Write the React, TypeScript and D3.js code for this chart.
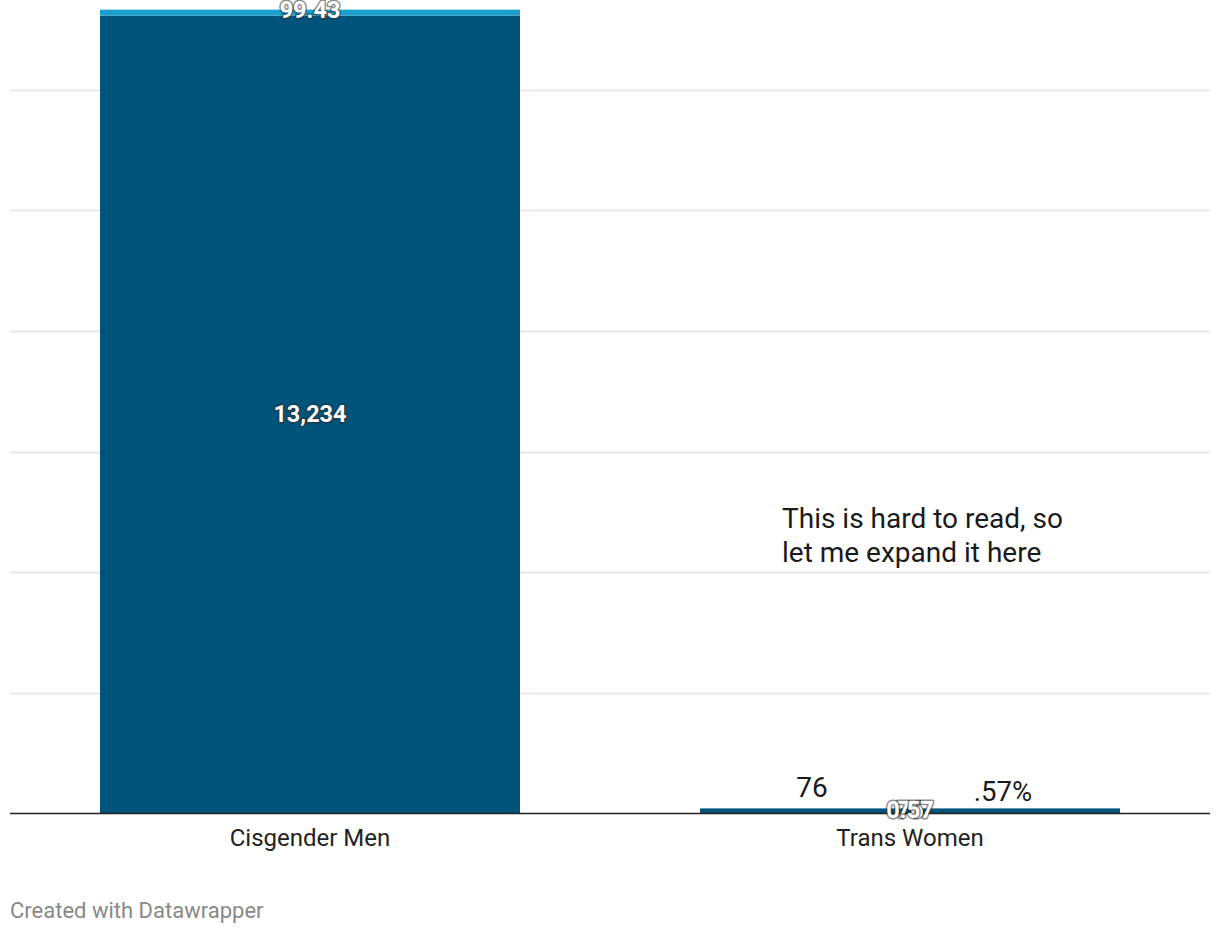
import React from "react";
import * as d3 from "d3";

const categories = ["Cisgender Men", "Trans Women"];
const countValues = [13234, 76];
const percentValues = [99.43, 0.57];
const countLabels = ["13,234", "76"];
const percentLabels = ["99.43", "0.57"];
const yTicks = [0, 2000, 4000, 6000, 8000, 10000, 12000];

const W = 1220;
const H = 934;
const left = 10;
const right = 1210;
const baseY = 813;

export default function App() {
  const x = d3.scaleBand<string>().domain(categories).range([left, right]).paddingInner(0.3).paddingOuter(0.15);
  const y = d3.scaleLinear().domain([0, 12000]).range([baseY, 90]);
  const dark = "#00537a";
  const light = "#1a9fcc";
  const font = "Roboto, sans-serif";
  const halo = { paintOrder: "stroke" as const, stroke: "#2a2a2a", strokeWidth: 3, strokeOpacity: 0.55, strokeLinejoin: "round" as const };
  return (
    <div style={{ position: "absolute", left: 0, top: 0 }}>
      <svg width={W} height={H} style={{ display: "block", fontFamily: font }}>
        <rect width={W} height={H} fill="#fff" />
        {yTicks.filter((t) => t > 0).map((t) => (
          <line key={t} x1={left} x2={right} y1={Math.round(y(t)) + 0.5} y2={Math.round(y(t)) + 0.5} stroke="#e3e3e3" strokeWidth={1.5} />
        ))}
        {categories.map((c, i) => {
          const x0 = x(c)!;
          const bw = x.bandwidth();
          const yc = y(countValues[i]);
          const yp = y(countValues[i] + percentValues[i]);
          return (
            <g key={c}>
              <rect x={x0} width={bw} y={yc} height={baseY - yc} fill={dark} />
              <rect x={x0} width={bw} y={yp} height={yc - yp} fill={light} />
            </g>
          );
        })}
        <line x1={left} x2={right} y1={baseY + 0.5} y2={baseY + 0.5} stroke="#222" strokeWidth={1.5} />
        {categories.map((c, i) => {
          const cx = x(c)! + x.bandwidth() / 2;
          const yc = y(countValues[i]);
          const yp = y(countValues[i] + percentValues[i]);
          return (
            <g key={c + "l"} fontWeight={700} fontSize={23.5} fill="#fff" textAnchor="middle" dominantBaseline="central">
              <text x={cx} y={(baseY + yc) / 2 + (i === 1 ? -1 : 0)} style={halo}>{countLabels[i]}</text>
              <text x={cx} y={i === 0 ? (yc + yp) / 2 - 3 : (baseY + yc) / 2 - 1} style={halo}>{percentLabels[i]}</text>
            </g>
          );
        })}
        {categories.map((c) => (
          <text key={c + "a"} x={x(c)! + x.bandwidth() / 2} y={846} textAnchor="middle" fontSize={24} fill="#222">{c}</text>
        ))}
        <text x={812} y={797} textAnchor="middle" fontSize={28} fill="#1a1a1a">76</text>
        <text x={1003} y={801} textAnchor="middle" fontSize={27.5} fill="#1a1a1a">.57%</text>
        <text x={782} y={528} fontSize={28} fill="#1a1a1a">This is hard to read, so</text>
        <text x={782} y={562} fontSize={28} fill="#1a1a1a">let me expand it here</text>
        <text x={10} y={918} fontSize={22} fill="#888">Created with Datawrapper</text>
      </svg>
    </div>
  );
}
